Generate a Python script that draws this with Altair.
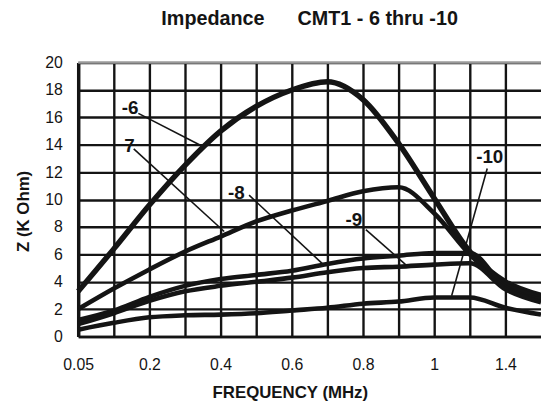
import json
import altair as alt
import pandas as pd

# ---- data ----
freq_labels = ["0.05", "0.1", "0.2", "0.3", "0.4", "0.5", "0.6", "0.7",
               "0.8", "0.9", "1", "1.2", "1.4", "1.6"]
z6 = [3.3, 6.4, 9.6, 12.5, 15.0, 16.8, 18.0, 18.6, 17.3, 14.1, 10.1, 6.2, 4.0, 3.0]
z7 = [2.0, 3.5, 4.9, 6.2, 7.3, 8.4, 9.2, 9.9, 10.6, 10.9, 9.0, 6.0, 3.8, 2.85]
z8 = [1.2, 1.9, 2.9, 3.7, 4.2, 4.5, 4.8, 5.3, 5.7, 5.9, 6.1, 6.1, 3.6, 2.7]
z9 = [0.9, 1.7, 2.6, 3.3, 3.7, 4.0, 4.3, 4.7, 5.0, 5.1, 5.25, 5.35, 3.45, 2.5]
z10 = [0.5, 1.0, 1.4, 1.55, 1.6, 1.7, 1.9, 2.1, 2.4, 2.55, 2.85, 2.85, 2.1, 1.6]
series_names = ["-6", "-7", "-8", "-9", "-10"]
series_values = [z6, z7, z8, z9, z10]
series_width = [5.5, 4.6, 4.6, 4.6, 4.6]

# annotation labels and leader lines (in data units: category index, Z)
ann_text = ["-6", "7", "-8", "-9", "-10"]
ann_x = [1.46, 1.44, 4.44, 7.74, 11.56]
ann_y = [16.7, 13.93, 10.5, 8.52, 13.07]
lead_x1 = [1.69, 1.56, 4.8, 8.08, 11.49]
lead_y1 = [16.29, 13.7, 10.32, 7.8, 12.27]
lead_x2 = [3.5, 4.1, 6.88, 9.19, 10.49]
lead_y2 = [13.87, 7.67, 5.27, 5.27, 2.98]

FONT = "Liberation Sans"
INK = "#141414"

rows = []
for name, vals, w in zip(series_names, series_values, series_width):
    for i, v in enumerate(vals):
        rows.append({"series": name, "idx": i, "freq": freq_labels[i], "z": v, "w": w})
df = pd.DataFrame(rows)

ann_df = pd.DataFrame({"text": ann_text, "x": ann_x, "y": ann_y})
lead_df = pd.DataFrame({"x1": lead_x1, "y1": lead_y1, "x2": lead_x2, "y2": lead_y2})
top_df = pd.DataFrame({"y": [20]})

shown = [lab if i % 2 == 0 else "" for i, lab in enumerate(freq_labels)]
label_expr = json.dumps(shown) + "[datum.value]"

xscale = alt.Scale(domain=[0, 13], nice=False, zero=False)
yscale = alt.Scale(domain=[0, 20], nice=False)

x_axis = alt.Axis(
    values=list(range(13)), labelExpr=label_expr, grid=True, gridColor=INK,
    gridWidth=2.4, gridOpacity=1, ticks=False, labelPadding=20, labelFlush=False,
    labelOverlap=False, labelFont=FONT, labelFontSize=16, labelColor=INK,
    domainColor=INK, domainWidth=2.5, title="FREQUENCY (MHz)", titleFont=FONT,
    titleFontSize=17, titleFontWeight="bold", titleColor=INK,
    titleX=214, titleY=57, titleBaseline="middle",
)
y_axis = alt.Axis(
    values=list(range(0, 21, 2)), grid=True, gridColor=INK, gridWidth=2.4,
    gridOpacity=1, ticks=False, labelPadding=16, labelFont=FONT,
    labelOverlap=False, labelFontSize=16, labelColor=INK, domainColor=INK,
    domainWidth=3.5, title="Z (K Ohm)", titleFont=FONT, titleFontSize=17,
    titleFontWeight="bold", titleColor=INK, titleX=-55, titleY=150,
    titleBaseline="middle",
)

lines = alt.Chart(df).mark_line(color=INK, interpolate="monotone", strokeCap="butt").encode(
    x=alt.X("idx:Q", scale=xscale, axis=x_axis),
    y=alt.Y("z:Q", scale=yscale, axis=y_axis),
    detail="series:N",
    strokeWidth=alt.StrokeWidth("w:Q", scale=None, legend=None),
)

top_rule = alt.Chart(top_df).mark_rule(color="#9a9a9a", strokeWidth=2.5).encode(
    y=alt.Y("y:Q", scale=yscale, axis=y_axis),
    x=alt.value(0), x2=alt.value(468),
)

leaders = alt.Chart(lead_df).mark_rule(color=INK, strokeWidth=1.6).encode(
    x=alt.X("x1:Q", scale=xscale, axis=x_axis), y=alt.Y("y1:Q", scale=yscale, axis=y_axis),
    x2="x2:Q", y2="y2:Q",
)

labels = alt.Chart(ann_df).mark_text(
    font=FONT, fontSize=19, fontWeight="bold", color=INK,
    align="center", baseline="middle",
).encode(
    x=alt.X("x:Q", scale=xscale, axis=x_axis), y=alt.Y("y:Q", scale=yscale, axis=y_axis),
    text="text:N",
)

chart = alt.layer(lines, top_rule, leaders, labels).properties(
    width=468, height=277,
    title=alt.TitleParams(
        "Impedance\u00a0\u00a0\u00a0\u00a0\u00a0\u00a0CMT1 - 6 thru -10",
        font=FONT, fontSize=20, fontWeight="bold", color=INK, anchor="middle",
        offset=26,
    ),
    autosize=alt.AutoSizeParams(type="none"),
    padding={"left": 71, "top": 53, "right": 0, "bottom": 64},
).configure_view(stroke=None).configure(background="white")

chart.save("out.html", embed_options={"renderer": "svg", "actions": False})
